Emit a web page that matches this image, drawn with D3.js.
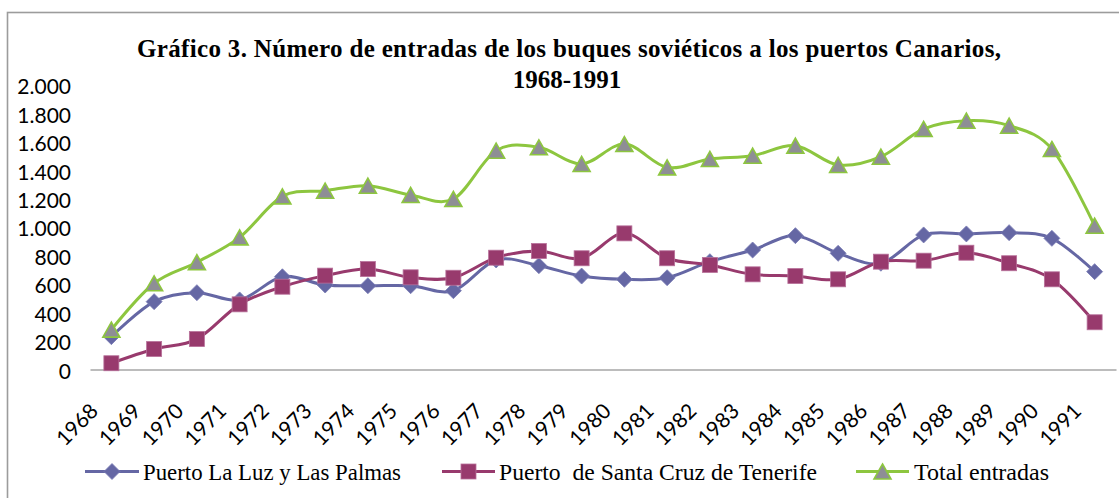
<!DOCTYPE html>
<html>
<head>
<meta charset="utf-8">
<script src="https://cdn.jsdelivr.net/npm/d3@7"></script>
<style>
  html, body { margin: 0; padding: 0; background: #fff; }
  svg { display: block; }
</style>
</head>
<body>
<svg id="chart" width="1119" height="498"></svg>
<script>
const years = ["1968","1969","1970","1971","1972","1973","1974","1975","1976","1977","1978","1979","1980","1981","1982","1983","1984","1985","1986","1987","1988","1989","1990","1991"];
const laLuz = [231,477,540,489,652,594,589,589,554,770,730,657,634,645,758,840,941,817,747,946,953,962,922,688];
const tenerife = [44,144,214,458,582,660,706,648,645,786,833,782,957,782,735,669,657,634,758,765,821,747,634,332];
const total = [280,606,754,929,1217,1257,1292,1227,1199,1538,1562,1445,1585,1421,1480,1503,1573,1438,1496,1691,1749,1714,1550,1011];
const yTicks = [0,200,400,600,800,1000,1200,1400,1600,1800,2000];
const seriesNames = ["Puerto La Luz y Las Palmas", "Puerto  de Santa Cruz de Tenerife", "Total entradas"];
const titleLines = ["Gráfico 3. Número de entradas de los buques soviéticos a los puertos Canarios,", "1968-1991"];

const svg = d3.select("#chart");
const W = 1119, H = 498;

// frame
svg.append("rect").attr("x", 7.5).attr("y", 12.5).attr("width", W + 20).attr("height", H + 20)
  .attr("fill", "#fff").attr("stroke", "#9c9c9c").attr("stroke-width", 1.6);

const x = d3.scaleBand().domain(years).range([90, 1116]);
const y = d3.scaleLinear().domain([0, 2000]).range([369.5, 85]);
const cx = d => x(d) + x.bandwidth() / 2;

// title
const title = svg.append("g").attr("font-family", "'Liberation Serif', 'Times New Roman', serif")
  .attr("font-weight", "bold").attr("font-size", 25).attr("fill", "#000");
title.append("text").attr("x", 137).attr("y", 57)
  .attr("textLength", 864).attr("lengthAdjust", "spacing").text(titleLines[0]);
title.append("text").attr("x", 567).attr("y", 88).attr("text-anchor", "middle").text(titleLines[1]);

// y axis labels
const fmt = v => d3.format(",")(v).replace(/,/g, ".");
const yAxis = d3.axisLeft(y).tickValues(yTicks).tickFormat(fmt).tickSize(0).tickPadding(0);
const yg = svg.append("g").attr("transform", "translate(71,2)").call(yAxis);
yg.select(".domain").remove();
yg.selectAll("text").attr("font-family", "Lato, sans-serif").attr("font-size", 21).attr("fill", "#000");

// x axis
const xAxis = d3.axisBottom(x).tickSize(0).tickFormat(d => d);
const xg = svg.append("g").attr("transform", "translate(0," + y(0) + ")").call(xAxis);
xg.select(".domain").attr("stroke", "#a6a6a6").attr("stroke-width", 1.5);
xg.selectAll(".tick text")
  .attr("font-family", "Lato, sans-serif").attr("font-size", 21).attr("fill", "#000")
  .attr("text-anchor", "end").attr("y", 0).attr("dy", 0)
  .attr("transform", "translate(-12,43) rotate(-45)");

// series
const colors = { blue: "#6567a4", plum: "#983a6d", green: "#8dc63f", gray: "#8e8e95" };
const line = d3.line().x((d, i) => cx(years[i])).y(d => y(d)).curve(d3.curveCatmullRom.alpha(0));

function diamond(g, px, py, r) {
  g.append("path").attr("d", `M${px},${py - r}L${px + r},${py}L${px},${py + r}L${px - r},${py}Z`)
    .attr("fill", colors.blue).attr("stroke", "#7a7cb5").attr("stroke-width", 0.8);
}
function square(g, px, py, s) {
  g.append("rect").attr("x", px - s / 2).attr("y", py - s / 2).attr("width", s).attr("height", s)
    .attr("fill", colors.plum).attr("stroke", "#b7709a").attr("stroke-width", 0.8);
}
function triangle(g, px, py, w, h) {
  g.append("path").attr("d", `M${px},${py - h / 2}L${px + w / 2},${py + h / 2}L${px - w / 2},${py + h / 2}Z`)
    .attr("fill", colors.gray).attr("stroke", colors.green).attr("stroke-width", 1.6).attr("stroke-linejoin", "miter");
}

const s1 = svg.append("g");
s1.append("path").attr("d", line(laLuz)).attr("fill", "none").attr("stroke", colors.blue).attr("stroke-width", 3);
laLuz.forEach((v, i) => diamond(s1, cx(years[i]), y(v), 8));

const s2 = svg.append("g");
s2.append("path").attr("d", line(tenerife)).attr("fill", "none").attr("stroke", colors.plum).attr("stroke-width", 3);
tenerife.forEach((v, i) => square(s2, cx(years[i]), y(v), 15));

const s3 = svg.append("g");
s3.append("path").attr("d", line(total)).attr("fill", "none").attr("stroke", colors.green).attr("stroke-width", 3);
total.forEach((v, i) => triangle(s3, cx(years[i]), y(v), 17, 15));

// legend
const lg = svg.append("g");
const ly = 471.5;
const items = [
  { x0: 85, x1: 139, tx: 143, tw: 258, kind: "d" },
  { x0: 442, x1: 495, tx: 499, tw: 318, kind: "s" },
  { x0: 856, x1: 909, tx: 914, tw: 135, kind: "t" }
];
items.forEach((it, i) => {
  const col = it.kind === "d" ? colors.blue : it.kind === "s" ? colors.plum : colors.green;
  lg.append("line").attr("x1", it.x0).attr("x2", it.x1).attr("y1", ly).attr("y2", ly)
    .attr("stroke", col).attr("stroke-width", 3);
  const mx = (it.x0 + it.x1) / 2;
  if (it.kind === "d") diamond(lg, mx, ly, 8);
  else if (it.kind === "s") square(lg, mx, ly, 15);
  else triangle(lg, mx, ly, 17, 15);
  lg.append("text").attr("x", it.tx).attr("y", 480)
    .attr("font-family", "'Liberation Serif', 'Times New Roman', serif").attr("font-size", 23)
    .attr("fill", "#000").attr("textLength", it.tw).attr("lengthAdjust", "spacingAndGlyphs")
    .attr("xml:space", "preserve").style("white-space", "pre")
    .text(seriesNames[i]);
});
</script>
</body>
</html>
